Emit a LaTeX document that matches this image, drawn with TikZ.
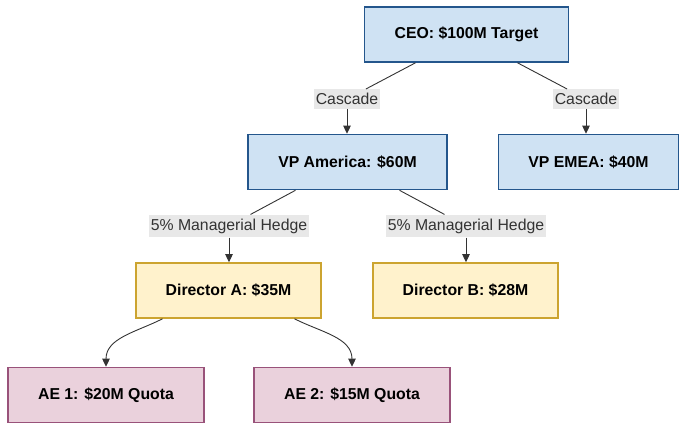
\documentclass[tikz,border=0pt]{standalone}
\usepackage{fontspec}
\setmainfont{Liberation Sans}
\usepackage{xcolor}
\usetikzlibrary{arrows.meta,positioning}

\definecolor{ceofill}{RGB}{207,226,243}
\definecolor{ceoline}{RGB}{36,86,140}
\definecolor{dirfill}{RGB}{255,242,204}
\definecolor{dirline}{RGB}{204,164,48}
\definecolor{aefill}{RGB}{234,209,220}
\definecolor{aeline}{RGB}{153,82,122}
\definecolor{edgegray}{RGB}{51,51,51}
\definecolor{lblgray}{RGB}{232,232,232}

\begin{document}
\begin{tikzpicture}[
    x=1pt, y=1pt,
    box/.style={draw=ceoline, rectangle, line width=1.6pt, minimum height=55pt, inner xsep=30pt, align=center, fill=ceofill, font=\fontsize{15.8}{19}\selectfont\bfseries},
    link/.style={draw=edgegray, line width=0.9pt},
    arrow/.style={link, -{Triangle[length=8pt,width=7.5pt]}},
    edgelbl/.style={fill=lblgray, text=edgegray, inner xsep=2pt, inner ysep=4pt, font=\fontsize{15.8}{19}\selectfont}
]
    \useasboundingbox (0,0) rectangle (686,430);

    \node[box] (ceo) at (466.5,395.5) {CEO: \$100M Target};
    \node[box] (vpa) at (347.5,268) {VP America: \$60M};
    \node[box] (vpe) at (588.5,268) {VP EMEA: \$40M};
    \node[box, fill=dirfill, draw=dirline] (dira) at (228.5,139.5) {Director A: \$35M};
    \node[box, fill=dirfill, draw=dirline] (dirb) at (465.5,139.5) {Director B: \$28M};
    \node[box, fill=aefill, draw=aeline] (ae1) at (106,35) {AE 1: \$20M Quota};
    \node[box, fill=aefill, draw=aeline] (ae2) at (352,35) {AE 2: \$15M Quota};

    % edge labels
    \node[edgelbl] (cas1) at (347,331) {Cascade};
    \node[edgelbl] (cas2) at (586,331) {Cascade};
    \node[edgelbl] (hedge1) at (229,204) {5\% Managerial Hedge};
    \node[edgelbl] (hedge2) at (466,204) {5\% Managerial Hedge};

    \draw[link] ([xshift=-51pt]ceo.south) -- (cas1);
    \draw[arrow] (cas1) -- (cas1 |- vpa.north);
    \draw[link] ([xshift=51pt]ceo.south) -- (cas2);
    \draw[arrow] (cas2) -- (cas2 |- vpe.north);

    \draw[link] ([xshift=-52pt]vpa.south) -- (hedge1);
    \draw[arrow] (hedge1) -- (hedge1 |- dira.north);
    \draw[link] ([xshift=52pt]vpa.south) -- (hedge2);
    \draw[arrow] (hedge2) -- (hedge2 |- dirb.north);

    \draw[arrow] ([xshift=-66pt]dira.south) to[out=-153, in=90] (ae1.north);
    \draw[arrow] ([xshift=66pt]dira.south) to[out=-27, in=90] (ae2.north);

\end{tikzpicture}
\end{document}
